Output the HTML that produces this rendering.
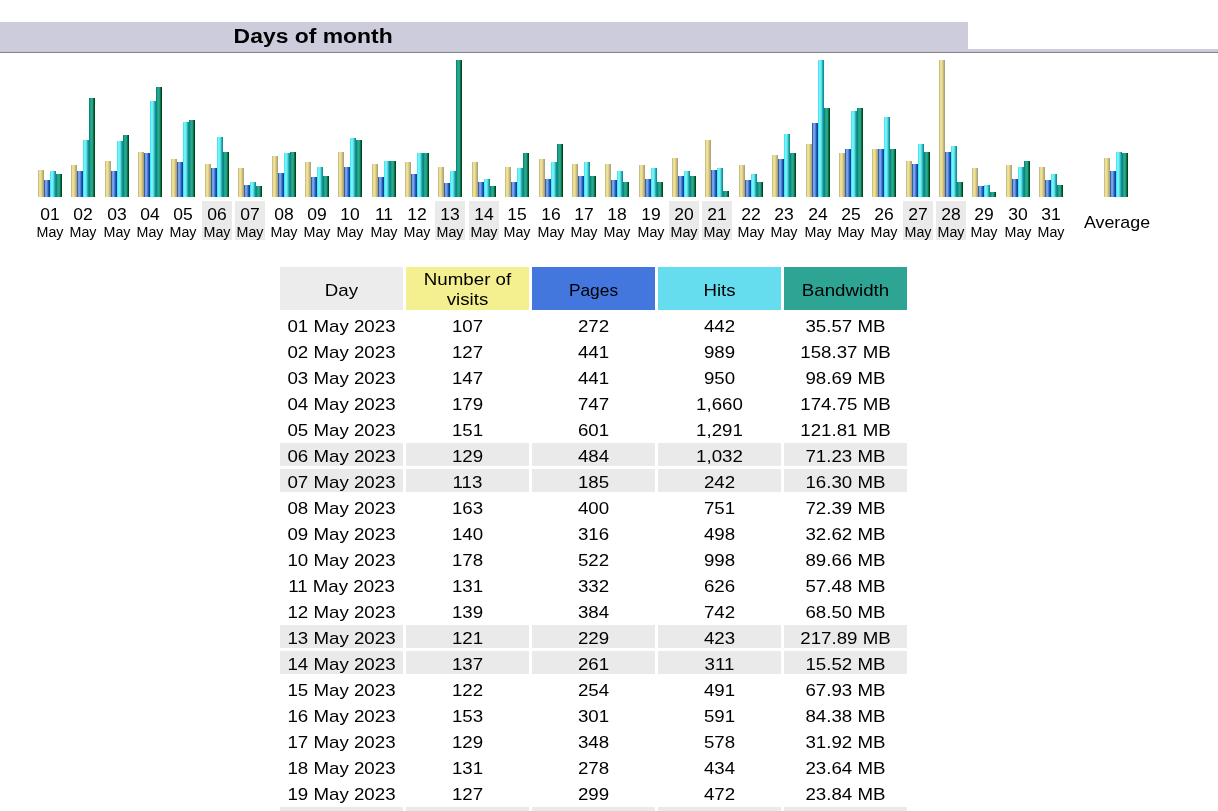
<!DOCTYPE html>
<html><head><meta charset="utf-8"><title>Days of month</title><style>
*{margin:0;padding:0;box-sizing:border-box}
html,body{width:1218px;height:811px;overflow:hidden;background:#fff}
body{position:relative;font-family:"Liberation Sans",sans-serif;color:#000}
.a{position:absolute}
.t{position:absolute;white-space:nowrap;text-align:center;will-change:transform}
.by{background:linear-gradient(to right,#c8c088 0px,#c8c088 1px,#e8e098 1px,#e8e098 2px,#f0e090 2px,#f0e090 3px,#e0d088 3px,#e0d088 4px,#c8b880 4px,#c8b880 5px,#a8a67e 5px,#a8a67e 6px)}
.bb{background:linear-gradient(to right,#3a6090 0px,#3a6090 1px,#70a0f0 1px,#70a0f0 2px,#78a0f0 2px,#78a0f0 3px,#5080d8 3px,#5080d8 4px,#2858b0 4px,#2858b0 5px,#004898 5px,#004898 6px)}
.bc{background:linear-gradient(to right,#50e0f8 0px,#50e0f8 1px,#68f8ff 1px,#68f8ff 2px,#70f0f0 2px,#70f0f0 3px,#60d8d8 3px,#60d8d8 4px,#30b0b8 4px,#30b0b8 5px,#10909a 5px,#10909a 6px)}
.bt{background:linear-gradient(to right,#088878 0px,#088878 1px,#20a088 1px,#20a088 2px,#28a890 2px,#28a890 3px,#20a080 3px,#20a080 4px,#107048 4px,#107048 5px,#004820 5px,#004820 6px)}
.b{position:absolute;width:6px}
.n{font-size:17px;line-height:20px;height:20px;transform:scaleX(1.1)}
.d{transform:scaleX(1.03)}
.m{font-size:14px;line-height:16px;height:16px;transform:scaleX(1.02)}
</style></head><body>
<div class="a" style="left:0;top:22px;width:968px;height:27px;background:#ccccdd"></div>
<div class="a" style="left:0;top:49px;width:1218px;height:2px;background:#ccccdd"></div>
<div class="a" style="left:0;top:51px;width:1218px;height:1px;background:#c6c6d2"></div>
<div class="a" style="left:0;top:52px;width:1218px;height:1px;background:#85858d"></div>
<div class="t" style="left:-1px;width:628px;top:24.0px;font-size:20px;line-height:24px;font-weight:bold;transform:scaleX(1.145);transform-origin:313px 0">Days of month</div>
<div class="b by" style="left:38px;top:170px;height:27px"></div>
<div class="b bb" style="left:44px;top:180px;height:17px"></div>
<div class="b bc" style="left:50px;top:171px;height:26px"></div>
<div class="b bt" style="left:56px;top:174px;height:23px"></div>
<div class="t n d" style="left:30px;width:40px;top:204.5px">01</div>
<div class="t m" style="left:30px;width:40px;top:223.7px">May</div>
<div class="b by" style="left:71px;top:165px;height:32px"></div>
<div class="b bb" style="left:77px;top:171px;height:26px"></div>
<div class="b bc" style="left:83px;top:140px;height:57px"></div>
<div class="b bt" style="left:89px;top:98px;height:99px"></div>
<div class="t n d" style="left:63px;width:40px;top:204.5px">02</div>
<div class="t m" style="left:63px;width:40px;top:223.7px">May</div>
<div class="b by" style="left:105px;top:161px;height:36px"></div>
<div class="b bb" style="left:111px;top:171px;height:26px"></div>
<div class="b bc" style="left:117px;top:141px;height:56px"></div>
<div class="b bt" style="left:123px;top:135px;height:62px"></div>
<div class="t n d" style="left:97px;width:40px;top:204.5px">03</div>
<div class="t m" style="left:97px;width:40px;top:223.7px">May</div>
<div class="b by" style="left:138px;top:152px;height:45px"></div>
<div class="b bb" style="left:144px;top:153px;height:44px"></div>
<div class="b bc" style="left:150px;top:101px;height:96px"></div>
<div class="b bt" style="left:156px;top:87px;height:110px"></div>
<div class="t n d" style="left:130px;width:40px;top:204.5px">04</div>
<div class="t m" style="left:130px;width:40px;top:223.7px">May</div>
<div class="b by" style="left:171px;top:159px;height:38px"></div>
<div class="b bb" style="left:177px;top:162px;height:35px"></div>
<div class="b bc" style="left:183px;top:122px;height:75px"></div>
<div class="b bt" style="left:189px;top:120px;height:77px"></div>
<div class="t n d" style="left:163px;width:40px;top:204.5px">05</div>
<div class="t m" style="left:163px;width:40px;top:223.7px">May</div>
<div class="a" style="left:202px;top:201px;width:30px;height:39px;background:#eaeaea"></div>
<div class="b by" style="left:205px;top:164px;height:33px"></div>
<div class="b bb" style="left:211px;top:168px;height:29px"></div>
<div class="b bc" style="left:217px;top:137px;height:60px"></div>
<div class="b bt" style="left:223px;top:152px;height:45px"></div>
<div class="t n d" style="left:197px;width:40px;top:204.5px">06</div>
<div class="t m" style="left:197px;width:40px;top:223.7px">May</div>
<div class="a" style="left:235px;top:201px;width:30px;height:39px;background:#eaeaea"></div>
<div class="b by" style="left:238px;top:168px;height:29px"></div>
<div class="b bb" style="left:244px;top:185px;height:12px"></div>
<div class="b bc" style="left:250px;top:182px;height:15px"></div>
<div class="b bt" style="left:256px;top:186px;height:11px"></div>
<div class="t n d" style="left:230px;width:40px;top:204.5px">07</div>
<div class="t m" style="left:230px;width:40px;top:223.7px">May</div>
<div class="b by" style="left:272px;top:156px;height:41px"></div>
<div class="b bb" style="left:278px;top:173px;height:24px"></div>
<div class="b bc" style="left:284px;top:153px;height:44px"></div>
<div class="b bt" style="left:290px;top:152px;height:45px"></div>
<div class="t n d" style="left:264px;width:40px;top:204.5px">08</div>
<div class="t m" style="left:264px;width:40px;top:223.7px">May</div>
<div class="b by" style="left:305px;top:162px;height:35px"></div>
<div class="b bb" style="left:311px;top:177px;height:20px"></div>
<div class="b bc" style="left:317px;top:167px;height:30px"></div>
<div class="b bt" style="left:323px;top:176px;height:21px"></div>
<div class="t n d" style="left:297px;width:40px;top:204.5px">09</div>
<div class="t m" style="left:297px;width:40px;top:223.7px">May</div>
<div class="b by" style="left:338px;top:152px;height:45px"></div>
<div class="b bb" style="left:344px;top:167px;height:30px"></div>
<div class="b bc" style="left:350px;top:138px;height:59px"></div>
<div class="b bt" style="left:356px;top:140px;height:57px"></div>
<div class="t n d" style="left:330px;width:40px;top:204.5px">10</div>
<div class="t m" style="left:330px;width:40px;top:223.7px">May</div>
<div class="b by" style="left:372px;top:164px;height:33px"></div>
<div class="b bb" style="left:378px;top:177px;height:20px"></div>
<div class="b bc" style="left:384px;top:161px;height:36px"></div>
<div class="b bt" style="left:390px;top:161px;height:36px"></div>
<div class="t n d" style="left:364px;width:40px;top:204.5px">11</div>
<div class="t m" style="left:364px;width:40px;top:223.7px">May</div>
<div class="b by" style="left:405px;top:162px;height:35px"></div>
<div class="b bb" style="left:411px;top:174px;height:23px"></div>
<div class="b bc" style="left:417px;top:153px;height:44px"></div>
<div class="b bt" style="left:423px;top:153px;height:44px"></div>
<div class="t n d" style="left:397px;width:40px;top:204.5px">12</div>
<div class="t m" style="left:397px;width:40px;top:223.7px">May</div>
<div class="a" style="left:435px;top:201px;width:30px;height:39px;background:#eaeaea"></div>
<div class="b by" style="left:438px;top:167px;height:30px"></div>
<div class="b bb" style="left:444px;top:183px;height:14px"></div>
<div class="b bc" style="left:450px;top:171px;height:26px"></div>
<div class="b bt" style="left:456px;top:60px;height:137px"></div>
<div class="t n d" style="left:430px;width:40px;top:204.5px">13</div>
<div class="t m" style="left:430px;width:40px;top:223.7px">May</div>
<div class="a" style="left:469px;top:201px;width:30px;height:39px;background:#eaeaea"></div>
<div class="b by" style="left:472px;top:162px;height:35px"></div>
<div class="b bb" style="left:478px;top:182px;height:15px"></div>
<div class="b bc" style="left:484px;top:179px;height:18px"></div>
<div class="b bt" style="left:490px;top:186px;height:11px"></div>
<div class="t n d" style="left:464px;width:40px;top:204.5px">14</div>
<div class="t m" style="left:464px;width:40px;top:223.7px">May</div>
<div class="b by" style="left:505px;top:167px;height:30px"></div>
<div class="b bb" style="left:511px;top:182px;height:15px"></div>
<div class="b bc" style="left:517px;top:168px;height:29px"></div>
<div class="b bt" style="left:523px;top:153px;height:44px"></div>
<div class="t n d" style="left:497px;width:40px;top:204.5px">15</div>
<div class="t m" style="left:497px;width:40px;top:223.7px">May</div>
<div class="b by" style="left:539px;top:159px;height:38px"></div>
<div class="b bb" style="left:545px;top:179px;height:18px"></div>
<div class="b bc" style="left:551px;top:162px;height:35px"></div>
<div class="b bt" style="left:557px;top:144px;height:53px"></div>
<div class="t n d" style="left:531px;width:40px;top:204.5px">16</div>
<div class="t m" style="left:531px;width:40px;top:223.7px">May</div>
<div class="b by" style="left:572px;top:164px;height:33px"></div>
<div class="b bb" style="left:578px;top:176px;height:21px"></div>
<div class="b bc" style="left:584px;top:162px;height:35px"></div>
<div class="b bt" style="left:590px;top:176px;height:21px"></div>
<div class="t n d" style="left:564px;width:40px;top:204.5px">17</div>
<div class="t m" style="left:564px;width:40px;top:223.7px">May</div>
<div class="b by" style="left:605px;top:164px;height:33px"></div>
<div class="b bb" style="left:611px;top:180px;height:17px"></div>
<div class="b bc" style="left:617px;top:171px;height:26px"></div>
<div class="b bt" style="left:623px;top:182px;height:15px"></div>
<div class="t n d" style="left:597px;width:40px;top:204.5px">18</div>
<div class="t m" style="left:597px;width:40px;top:223.7px">May</div>
<div class="b by" style="left:639px;top:165px;height:32px"></div>
<div class="b bb" style="left:645px;top:179px;height:18px"></div>
<div class="b bc" style="left:651px;top:168px;height:29px"></div>
<div class="b bt" style="left:657px;top:182px;height:15px"></div>
<div class="t n d" style="left:631px;width:40px;top:204.5px">19</div>
<div class="t m" style="left:631px;width:40px;top:223.7px">May</div>
<div class="a" style="left:669px;top:201px;width:30px;height:39px;background:#eaeaea"></div>
<div class="b by" style="left:672px;top:158px;height:39px"></div>
<div class="b bb" style="left:678px;top:176px;height:21px"></div>
<div class="b bc" style="left:684px;top:171px;height:26px"></div>
<div class="b bt" style="left:690px;top:176px;height:21px"></div>
<div class="t n d" style="left:664px;width:40px;top:204.5px">20</div>
<div class="t m" style="left:664px;width:40px;top:223.7px">May</div>
<div class="a" style="left:702px;top:201px;width:30px;height:39px;background:#eaeaea"></div>
<div class="b by" style="left:705px;top:140px;height:57px"></div>
<div class="b bb" style="left:711px;top:170px;height:27px"></div>
<div class="b bc" style="left:717px;top:168px;height:29px"></div>
<div class="b bt" style="left:723px;top:191px;height:6px"></div>
<div class="t n d" style="left:697px;width:40px;top:204.5px">21</div>
<div class="t m" style="left:697px;width:40px;top:223.7px">May</div>
<div class="b by" style="left:739px;top:165px;height:32px"></div>
<div class="b bb" style="left:745px;top:180px;height:17px"></div>
<div class="b bc" style="left:751px;top:174px;height:23px"></div>
<div class="b bt" style="left:757px;top:182px;height:15px"></div>
<div class="t n d" style="left:731px;width:40px;top:204.5px">22</div>
<div class="t m" style="left:731px;width:40px;top:223.7px">May</div>
<div class="b by" style="left:772px;top:155px;height:42px"></div>
<div class="b bb" style="left:778px;top:159px;height:38px"></div>
<div class="b bc" style="left:784px;top:134px;height:63px"></div>
<div class="b bt" style="left:790px;top:153px;height:44px"></div>
<div class="t n d" style="left:764px;width:40px;top:204.5px">23</div>
<div class="t m" style="left:764px;width:40px;top:223.7px">May</div>
<div class="b by" style="left:806px;top:144px;height:53px"></div>
<div class="b bb" style="left:812px;top:123px;height:74px"></div>
<div class="b bc" style="left:818px;top:60px;height:137px"></div>
<div class="b bt" style="left:824px;top:108px;height:89px"></div>
<div class="t n d" style="left:798px;width:40px;top:204.5px">24</div>
<div class="t m" style="left:798px;width:40px;top:223.7px">May</div>
<div class="b by" style="left:839px;top:153px;height:44px"></div>
<div class="b bb" style="left:845px;top:149px;height:48px"></div>
<div class="b bc" style="left:851px;top:111px;height:86px"></div>
<div class="b bt" style="left:857px;top:108px;height:89px"></div>
<div class="t n d" style="left:831px;width:40px;top:204.5px">25</div>
<div class="t m" style="left:831px;width:40px;top:223.7px">May</div>
<div class="b by" style="left:872px;top:149px;height:48px"></div>
<div class="b bb" style="left:878px;top:149px;height:48px"></div>
<div class="b bc" style="left:884px;top:117px;height:80px"></div>
<div class="b bt" style="left:890px;top:149px;height:48px"></div>
<div class="t n d" style="left:864px;width:40px;top:204.5px">26</div>
<div class="t m" style="left:864px;width:40px;top:223.7px">May</div>
<div class="a" style="left:903px;top:201px;width:30px;height:39px;background:#eaeaea"></div>
<div class="b by" style="left:906px;top:161px;height:36px"></div>
<div class="b bb" style="left:912px;top:164px;height:33px"></div>
<div class="b bc" style="left:918px;top:144px;height:53px"></div>
<div class="b bt" style="left:924px;top:152px;height:45px"></div>
<div class="t n d" style="left:898px;width:40px;top:204.5px">27</div>
<div class="t m" style="left:898px;width:40px;top:223.7px">May</div>
<div class="a" style="left:936px;top:201px;width:30px;height:39px;background:#eaeaea"></div>
<div class="b by" style="left:939px;top:60px;height:137px"></div>
<div class="b bb" style="left:945px;top:152px;height:45px"></div>
<div class="b bc" style="left:951px;top:146px;height:51px"></div>
<div class="b bt" style="left:957px;top:182px;height:15px"></div>
<div class="t n d" style="left:931px;width:40px;top:204.5px">28</div>
<div class="t m" style="left:931px;width:40px;top:223.7px">May</div>
<div class="b by" style="left:972px;top:168px;height:29px"></div>
<div class="b bb" style="left:978px;top:186px;height:11px"></div>
<div class="b bc" style="left:984px;top:185px;height:12px"></div>
<div class="b bt" style="left:990px;top:192px;height:5px"></div>
<div class="t n d" style="left:964px;width:40px;top:204.5px">29</div>
<div class="t m" style="left:964px;width:40px;top:223.7px">May</div>
<div class="b by" style="left:1006px;top:165px;height:32px"></div>
<div class="b bb" style="left:1012px;top:179px;height:18px"></div>
<div class="b bc" style="left:1018px;top:167px;height:30px"></div>
<div class="b bt" style="left:1024px;top:161px;height:36px"></div>
<div class="t n d" style="left:998px;width:40px;top:204.5px">30</div>
<div class="t m" style="left:998px;width:40px;top:223.7px">May</div>
<div class="b by" style="left:1039px;top:167px;height:30px"></div>
<div class="b bb" style="left:1045px;top:180px;height:17px"></div>
<div class="b bc" style="left:1051px;top:174px;height:23px"></div>
<div class="b bt" style="left:1057px;top:185px;height:12px"></div>
<div class="t n d" style="left:1031px;width:40px;top:204.5px">31</div>
<div class="t m" style="left:1031px;width:40px;top:223.7px">May</div>
<div class="b by" style="left:1104px;top:158px;height:39px"></div>
<div class="b bb" style="left:1110px;top:171px;height:26px"></div>
<div class="b bc" style="left:1116px;top:152px;height:45px"></div>
<div class="b bt" style="left:1122px;top:153px;height:44px"></div>
<div class="t n" style="left:1066.5px;width:100px;top:212.7px;transform:scaleX(1.05)">Average</div>
<div class="a" style="left:280px;top:267px;width:123px;height:43px;background:#ececec"></div>
<div class="a" style="left:406px;top:267px;width:123px;height:43px;background:#f4f090"></div>
<div class="a" style="left:532px;top:267px;width:123px;height:43px;background:#4477dd"></div>
<div class="a" style="left:658px;top:267px;width:123px;height:43px;background:#66ddee"></div>
<div class="a" style="left:784px;top:267px;width:123px;height:43px;background:#2ea495"></div>
<div class="t n" style="left:280px;width:123px;top:280.5px">Day</div>
<div class="t n" style="left:532px;width:123px;top:280.5px;transform:scaleX(1.02)">Pages</div>
<div class="t n" style="left:658px;width:123px;top:280.5px">Hits</div>
<div class="t n" style="left:784px;width:123px;top:280.5px">Bandwidth</div>
<div class="t n" style="left:406px;width:123px;top:270.1px">Number of</div>
<div class="t n" style="left:406px;width:123px;top:290.2px">visits</div>
<div class="t n" style="left:280px;width:123px;top:316.5px">01 May 2023</div>
<div class="t n" style="left:406px;width:123px;top:316.5px">107</div>
<div class="t n" style="left:532px;width:123px;top:316.5px">272</div>
<div class="t n" style="left:658px;width:123px;top:316.5px">442</div>
<div class="t n" style="left:784px;width:123px;top:316.5px">35.57 MB</div>
<div class="t n" style="left:280px;width:123px;top:342.5px">02 May 2023</div>
<div class="t n" style="left:406px;width:123px;top:342.5px">127</div>
<div class="t n" style="left:532px;width:123px;top:342.5px">441</div>
<div class="t n" style="left:658px;width:123px;top:342.5px">989</div>
<div class="t n" style="left:784px;width:123px;top:342.5px">158.37 MB</div>
<div class="t n" style="left:280px;width:123px;top:368.5px">03 May 2023</div>
<div class="t n" style="left:406px;width:123px;top:368.5px">147</div>
<div class="t n" style="left:532px;width:123px;top:368.5px">441</div>
<div class="t n" style="left:658px;width:123px;top:368.5px">950</div>
<div class="t n" style="left:784px;width:123px;top:368.5px">98.69 MB</div>
<div class="t n" style="left:280px;width:123px;top:394.5px">04 May 2023</div>
<div class="t n" style="left:406px;width:123px;top:394.5px">179</div>
<div class="t n" style="left:532px;width:123px;top:394.5px">747</div>
<div class="t n" style="left:658px;width:123px;top:394.5px">1,660</div>
<div class="t n" style="left:784px;width:123px;top:394.5px">174.75 MB</div>
<div class="t n" style="left:280px;width:123px;top:420.5px">05 May 2023</div>
<div class="t n" style="left:406px;width:123px;top:420.5px">151</div>
<div class="t n" style="left:532px;width:123px;top:420.5px">601</div>
<div class="t n" style="left:658px;width:123px;top:420.5px">1,291</div>
<div class="t n" style="left:784px;width:123px;top:420.5px">121.81 MB</div>
<div class="a" style="left:280px;top:443px;width:123px;height:23px;background:#eaeaea"></div>
<div class="a" style="left:406px;top:443px;width:123px;height:23px;background:#eaeaea"></div>
<div class="a" style="left:532px;top:443px;width:123px;height:23px;background:#eaeaea"></div>
<div class="a" style="left:658px;top:443px;width:123px;height:23px;background:#eaeaea"></div>
<div class="a" style="left:784px;top:443px;width:123px;height:23px;background:#eaeaea"></div>
<div class="t n" style="left:280px;width:123px;top:446.5px">06 May 2023</div>
<div class="t n" style="left:406px;width:123px;top:446.5px">129</div>
<div class="t n" style="left:532px;width:123px;top:446.5px">484</div>
<div class="t n" style="left:658px;width:123px;top:446.5px">1,032</div>
<div class="t n" style="left:784px;width:123px;top:446.5px">71.23 MB</div>
<div class="a" style="left:280px;top:469px;width:123px;height:23px;background:#eaeaea"></div>
<div class="a" style="left:406px;top:469px;width:123px;height:23px;background:#eaeaea"></div>
<div class="a" style="left:532px;top:469px;width:123px;height:23px;background:#eaeaea"></div>
<div class="a" style="left:658px;top:469px;width:123px;height:23px;background:#eaeaea"></div>
<div class="a" style="left:784px;top:469px;width:123px;height:23px;background:#eaeaea"></div>
<div class="t n" style="left:280px;width:123px;top:472.5px">07 May 2023</div>
<div class="t n" style="left:406px;width:123px;top:472.5px">113</div>
<div class="t n" style="left:532px;width:123px;top:472.5px">185</div>
<div class="t n" style="left:658px;width:123px;top:472.5px">242</div>
<div class="t n" style="left:784px;width:123px;top:472.5px">16.30 MB</div>
<div class="t n" style="left:280px;width:123px;top:498.5px">08 May 2023</div>
<div class="t n" style="left:406px;width:123px;top:498.5px">163</div>
<div class="t n" style="left:532px;width:123px;top:498.5px">400</div>
<div class="t n" style="left:658px;width:123px;top:498.5px">751</div>
<div class="t n" style="left:784px;width:123px;top:498.5px">72.39 MB</div>
<div class="t n" style="left:280px;width:123px;top:524.5px">09 May 2023</div>
<div class="t n" style="left:406px;width:123px;top:524.5px">140</div>
<div class="t n" style="left:532px;width:123px;top:524.5px">316</div>
<div class="t n" style="left:658px;width:123px;top:524.5px">498</div>
<div class="t n" style="left:784px;width:123px;top:524.5px">32.62 MB</div>
<div class="t n" style="left:280px;width:123px;top:550.5px">10 May 2023</div>
<div class="t n" style="left:406px;width:123px;top:550.5px">178</div>
<div class="t n" style="left:532px;width:123px;top:550.5px">522</div>
<div class="t n" style="left:658px;width:123px;top:550.5px">998</div>
<div class="t n" style="left:784px;width:123px;top:550.5px">89.66 MB</div>
<div class="t n" style="left:280px;width:123px;top:576.5px">11 May 2023</div>
<div class="t n" style="left:406px;width:123px;top:576.5px">131</div>
<div class="t n" style="left:532px;width:123px;top:576.5px">332</div>
<div class="t n" style="left:658px;width:123px;top:576.5px">626</div>
<div class="t n" style="left:784px;width:123px;top:576.5px">57.48 MB</div>
<div class="t n" style="left:280px;width:123px;top:602.5px">12 May 2023</div>
<div class="t n" style="left:406px;width:123px;top:602.5px">139</div>
<div class="t n" style="left:532px;width:123px;top:602.5px">384</div>
<div class="t n" style="left:658px;width:123px;top:602.5px">742</div>
<div class="t n" style="left:784px;width:123px;top:602.5px">68.50 MB</div>
<div class="a" style="left:280px;top:625px;width:123px;height:23px;background:#eaeaea"></div>
<div class="a" style="left:406px;top:625px;width:123px;height:23px;background:#eaeaea"></div>
<div class="a" style="left:532px;top:625px;width:123px;height:23px;background:#eaeaea"></div>
<div class="a" style="left:658px;top:625px;width:123px;height:23px;background:#eaeaea"></div>
<div class="a" style="left:784px;top:625px;width:123px;height:23px;background:#eaeaea"></div>
<div class="t n" style="left:280px;width:123px;top:628.5px">13 May 2023</div>
<div class="t n" style="left:406px;width:123px;top:628.5px">121</div>
<div class="t n" style="left:532px;width:123px;top:628.5px">229</div>
<div class="t n" style="left:658px;width:123px;top:628.5px">423</div>
<div class="t n" style="left:784px;width:123px;top:628.5px">217.89 MB</div>
<div class="a" style="left:280px;top:651px;width:123px;height:23px;background:#eaeaea"></div>
<div class="a" style="left:406px;top:651px;width:123px;height:23px;background:#eaeaea"></div>
<div class="a" style="left:532px;top:651px;width:123px;height:23px;background:#eaeaea"></div>
<div class="a" style="left:658px;top:651px;width:123px;height:23px;background:#eaeaea"></div>
<div class="a" style="left:784px;top:651px;width:123px;height:23px;background:#eaeaea"></div>
<div class="t n" style="left:280px;width:123px;top:654.5px">14 May 2023</div>
<div class="t n" style="left:406px;width:123px;top:654.5px">137</div>
<div class="t n" style="left:532px;width:123px;top:654.5px">261</div>
<div class="t n" style="left:658px;width:123px;top:654.5px">311</div>
<div class="t n" style="left:784px;width:123px;top:654.5px">15.52 MB</div>
<div class="t n" style="left:280px;width:123px;top:680.5px">15 May 2023</div>
<div class="t n" style="left:406px;width:123px;top:680.5px">122</div>
<div class="t n" style="left:532px;width:123px;top:680.5px">254</div>
<div class="t n" style="left:658px;width:123px;top:680.5px">491</div>
<div class="t n" style="left:784px;width:123px;top:680.5px">67.93 MB</div>
<div class="t n" style="left:280px;width:123px;top:706.5px">16 May 2023</div>
<div class="t n" style="left:406px;width:123px;top:706.5px">153</div>
<div class="t n" style="left:532px;width:123px;top:706.5px">301</div>
<div class="t n" style="left:658px;width:123px;top:706.5px">591</div>
<div class="t n" style="left:784px;width:123px;top:706.5px">84.38 MB</div>
<div class="t n" style="left:280px;width:123px;top:732.5px">17 May 2023</div>
<div class="t n" style="left:406px;width:123px;top:732.5px">129</div>
<div class="t n" style="left:532px;width:123px;top:732.5px">348</div>
<div class="t n" style="left:658px;width:123px;top:732.5px">578</div>
<div class="t n" style="left:784px;width:123px;top:732.5px">31.92 MB</div>
<div class="t n" style="left:280px;width:123px;top:758.5px">18 May 2023</div>
<div class="t n" style="left:406px;width:123px;top:758.5px">131</div>
<div class="t n" style="left:532px;width:123px;top:758.5px">278</div>
<div class="t n" style="left:658px;width:123px;top:758.5px">434</div>
<div class="t n" style="left:784px;width:123px;top:758.5px">23.64 MB</div>
<div class="t n" style="left:280px;width:123px;top:784.5px">19 May 2023</div>
<div class="t n" style="left:406px;width:123px;top:784.5px">127</div>
<div class="t n" style="left:532px;width:123px;top:784.5px">299</div>
<div class="t n" style="left:658px;width:123px;top:784.5px">472</div>
<div class="t n" style="left:784px;width:123px;top:784.5px">23.84 MB</div>
<div class="a" style="left:280px;top:807px;width:123px;height:23px;background:#eaeaea"></div>
<div class="a" style="left:406px;top:807px;width:123px;height:23px;background:#eaeaea"></div>
<div class="a" style="left:532px;top:807px;width:123px;height:23px;background:#eaeaea"></div>
<div class="a" style="left:658px;top:807px;width:123px;height:23px;background:#eaeaea"></div>
<div class="a" style="left:784px;top:807px;width:123px;height:23px;background:#eaeaea"></div>
<div class="t n" style="left:280px;width:123px;top:810.5px">20 May 2023</div>
</body></html>
